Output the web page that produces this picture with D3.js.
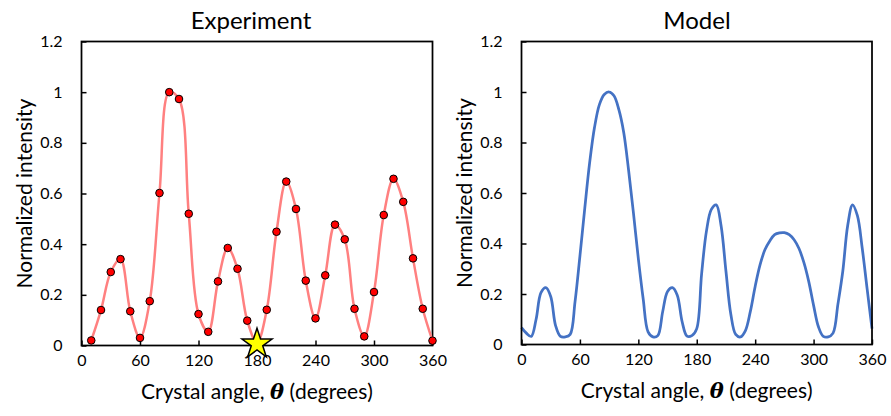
<!DOCTYPE html>
<html>
<head>
<meta charset="utf-8">
<script src="https://cdn.jsdelivr.net/npm/d3@7"></script>
<style>
  body { margin: 0; background: #fff; }
  text { font-family: Lato, "Open Sans", sans-serif; fill: #000; }
</style>
</head>
<body>
<svg id="chart" width="891" height="416"></svg>
<script>
// measured angles (degrees) and normalized intensity
var expAngles = [10, 20, 30, 40, 50, 60, 70, 80, 90, 100, 110, 120, 130, 140, 150, 160, 170, 180,
  190, 200, 210, 220, 230, 240, 250, 260, 270, 280, 290, 300, 310, 320, 330, 340, 350, 360];
var expIntensity = [0.02, 0.14, 0.29, 0.341, 0.135, 0.03, 0.175, 0.602, 1.0, 0.973, 0.52, 0.124,
  0.054, 0.253, 0.385, 0.303, 0.098, 0.01, 0.141, 0.449, 0.647, 0.539, 0.256, 0.107, 0.277,
  0.477, 0.419, 0.145, 0.036, 0.211, 0.515, 0.658, 0.567, 0.344, 0.145, 0.019];
var starAngle = 180;

var modelAngles = [0, 5, 10, 15, 20, 25, 30, 35, 40, 45, 50, 55, 60, 65, 70, 75, 80, 85, 90,
  95, 100, 105, 110, 115, 120, 125, 130, 135, 140, 145, 150, 155, 160, 165, 170, 175, 180,
  185, 190, 195, 200, 205, 210, 215, 220, 225, 230, 235, 240, 245, 250, 255, 260, 265, 270,
  275, 280, 285, 290, 295, 300, 305, 310, 315, 320, 325, 330, 335, 340, 345, 350, 355, 360];
var modelIntensity = [0.067, 0.045, 0.032, 0.1, 0.205, 0.225, 0.19, 0.075, 0.032, 0.03, 0.04,
  0.17, 0.35, 0.54, 0.72, 0.86, 0.95, 0.99, 1.0, 0.985, 0.93, 0.84, 0.69, 0.52, 0.34, 0.18,
  0.05, 0.03, 0.035, 0.13, 0.21, 0.225, 0.195, 0.09, 0.033, 0.035, 0.063, 0.28, 0.45, 0.535,
  0.553, 0.47, 0.29, 0.12, 0.04, 0.03, 0.055, 0.13, 0.23, 0.315, 0.375, 0.41, 0.435, 0.442,
  0.443, 0.435, 0.415, 0.38, 0.325, 0.25, 0.155, 0.07, 0.032, 0.03, 0.045, 0.16, 0.29, 0.47,
  0.553, 0.51, 0.38, 0.22, 0.063];

var xTicks = [0, 60, 120, 180, 240, 300, 360];
var yTicks = [0, 0.2, 0.4, 0.6, 0.8, 1, 1.2];
var yTickLabels = ["0", "0.2", "0.4", "0.6", "0.8", "1", "1.2"];

var svg = d3.select("#chart");

function panel(box, title, titleX) {
  var x = d3.scaleLinear().domain([0, 360]).range([box.left, box.right]);
  var y = d3.scaleLinear().domain([0, 1.2]).range([box.bottom, box.top]);
  var g = svg.append("g");

  g.append("g")
    .attr("transform", "translate(0," + box.bottom + ")")
    .call(d3.axisBottom(x).tickValues(xTicks).tickSizeInner(-5).tickSizeOuter(0).tickPadding(9))
    .call(function (a) {
      a.select(".domain").remove();
      a.selectAll("line").attr("stroke", "#000").attr("stroke-width", 1.5);
      a.selectAll("text").style("font-size", "16px").style("font-family", "Lato, sans-serif");
    });

  g.append("g")
    .attr("transform", "translate(" + box.left + ",0)")
    .call(d3.axisLeft(y).tickValues(yTicks).tickFormat(function (d, i) { return yTickLabels[i]; })
      .tickSizeInner(-5).tickSizeOuter(0).tickPadding(19))
    .call(function (a) {
      a.select(".domain").remove();
      a.selectAll("line").attr("stroke", "#000").attr("stroke-width", 1.5);
      a.selectAll("text").style("font-size", "16px").style("font-family", "Lato, sans-serif");
    });

  g.append("text")
    .attr("x", titleX).attr("y", 29)
    .attr("text-anchor", "middle")
    .style("font-size", "24px")
    .text(title);

  var xl = g.append("text")
    .attr("x", (box.left + box.right) / 2).attr("y", box.bottom + 53)
    .attr("text-anchor", "middle")
    .style("font-size", "21px");
  xl.append("tspan").text("Crystal angle, ");
  xl.append("tspan").style("font-family", "'DejaVu Serif', serif")
    .style("font-weight", "bold").style("font-style", "italic").text("\u03B8");
  xl.append("tspan").text(" (degrees)");

  g.append("text")
    .attr("transform", "translate(" + (box.left - 50) + "," + ((box.top + box.bottom) / 2) + ") rotate(-90)")
    .attr("text-anchor", "middle")
    .style("font-size", "21px")
    .text("Normalized intensity");

  return { g: g, x: x, y: y };
}

var leftBox = { left: 81.5, right: 432.5, top: 41.5, bottom: 345.5 };
var rightBox = { left: 521.5, right: 872, top: 41.5, bottom: 344.5 };
var left = panel(leftBox, "Experiment", 251);
var right = panel(rightBox, "Model", 697);

// model
var modelData = modelAngles.map(function (a, i) { return [a, modelIntensity[i]]; });
var modelLine = d3.line()
  .x(function (d) { return right.x(d[0]); })
  .y(function (d) { return right.y(d[1]); })
  .curve(d3.curveCatmullRom.alpha(0.5));
right.g.append("path")
  .attr("d", modelLine(modelData))
  .attr("fill", "none")
  .attr("stroke", "#4472c4")
  .attr("stroke-width", 2.75);

// frames
[[left, leftBox], [right, rightBox]].forEach(function (p) {
  p[0].g.append("rect")
    .attr("x", p[1].left).attr("y", p[1].top)
    .attr("width", p[1].right - p[1].left).attr("height", p[1].bottom - p[1].top)
    .attr("fill", "none").attr("stroke", "#000").attr("stroke-width", 1.75);
});

// experiment
var expData = expAngles.map(function (a, i) { return [a, expIntensity[i]]; });
var expLine = d3.line()
  .x(function (d) { return left.x(d[0]); })
  .y(function (d) { return left.y(d[1]); })
  .curve(d3.curveCatmullRom.alpha(0.5));
left.g.append("path")
  .attr("d", expLine(expData))
  .attr("fill", "none")
  .attr("stroke", "#ff8080")
  .attr("stroke-width", 2.5);

left.g.selectAll("circle")
  .data(expData.filter(function (d) { return d[0] !== starAngle; }))
  .enter().append("circle")
  .attr("cx", function (d) { return left.x(d[0]); })
  .attr("cy", function (d) { return left.y(d[1]); })
  .attr("r", 3.8)
  .attr("fill", "#ff0000")
  .attr("stroke", "#000")
  .attr("stroke-width", 1);

var starPt = expData.filter(function (d) { return d[0] === starAngle; })[0];
left.g.append("path")
  .attr("d", d3.symbol().type(d3.symbolStar).size(280)())
  .attr("transform", "translate(" + left.x(starPt[0]) + "," + (left.y(starPt[1]) + 1) + ")")
  .attr("fill", "#ffff00")
  .attr("stroke", "#000")
  .attr("stroke-width", 1.5);
</script>
</body>
</html>
